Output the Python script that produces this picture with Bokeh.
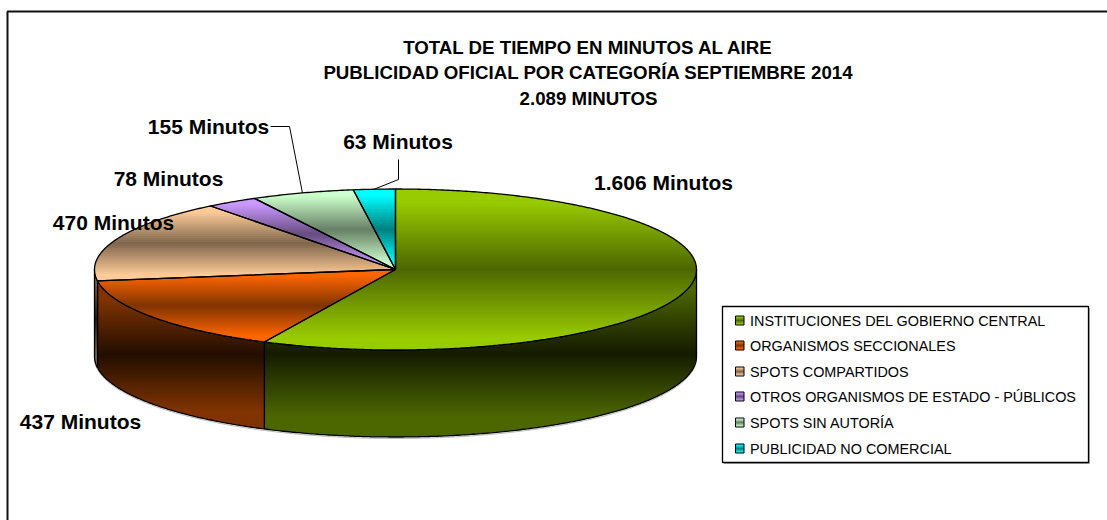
from bokeh.plotting import figure
from bokeh.embed import file_html
from bokeh.resources import INLINE
from bokeh.models import Range1d
from bokeh.core.properties import value
import numpy as np

# ---- data ----
categories = ["INSTITUCIONES DEL GOBIERNO CENTRAL", "ORGANISMOS SECCIONALES", "SPOTS COMPARTIDOS",
              "OTROS ORGANISMOS DE ESTADO - PÚBLICOS", "SPOTS SIN AUTORÍA", "PUBLICIDAD NO COMERCIAL"]
minutes = [1606, 437, 470, 78, 155, 63]
value_labels = ["1.606 Minutos", "437 Minutos", "470 Minutos", "78 Minutos", "155 Minutos", "63 Minutos"]
title_lines = ["TOTAL DE TIEMPO EN MINUTOS AL AIRE",
               "PUBLICIDAD OFICIAL POR CATEGORÍA SEPTIEMBRE 2014",
               "2.089 MINUTOS"]
colors = [(0x99, 0xCC, 0x00), (0xFF, 0x66, 0x00), (0xFF, 0xCC, 0x99),
          (0xCC, 0x99, 0xFF), (0xCC, 0xFF, 0xCC), (0x00, 0xFF, 0xFF)]

# ---- layout ----
W, H = 1107, 520
CX, CY, RX, RY, DEPTH = 395.0, 269.0, 301.0, 80.5, 87.0
FONT = "Liberation Sans"

p = figure(width=W, height=H, output_backend="svg", toolbar_location=None,
           x_range=Range1d(0, W), y_range=Range1d(H, 0), min_border=0)
p.axis.visible = False
p.grid.visible = False
p.outline_line_color = None
p.background_fill_color = "white"
p.border_fill_color = "white"


def rim(angle_deg, extra=0.0):
    a = np.radians(angle_deg)
    return CX + RX * np.sin(a), CY - RY * np.cos(a) + extra


def clip(poly, y0, y1):
    def half(pts, keep, cross):
        out = []
        n = len(pts)
        for i in range(n):
            a, b = pts[i], pts[(i + 1) % n]
            ka, kb = keep(a[1]), keep(b[1])
            if ka:
                out.append(a)
            if ka != kb:
                t = (cross - a[1]) / (b[1] - a[1])
                out.append((a[0] + t * (b[0] - a[0]), cross))
        return out
    pts = half(poly, lambda y: y >= y0, y0)
    if pts:
        pts = half(pts, lambda y: y <= y1, y1)
    return pts


def shade(c, f):
    return "#%02x%02x%02x" % tuple(int(round(min(255, v * f))) for v in c)


def gradient(poly, c, factor, step=2.0):
    """Fill a polygon with a vertical gradient made of overlapping horizontal bands."""
    ys = [q[1] for q in poly]
    y0, y1 = min(ys), max(ys)
    xs_all, ys_all, cols = [], [], []
    y = y0
    while y < y1:
        band = clip(poly, y, min(y + step + 1.0, y1))
        if len(band) >= 3:
            xs_all.append([q[0] for q in band])
            ys_all.append([q[1] for q in band])
            t = (y + step / 2 - y0) / (y1 - y0)
            cols.append(shade(c, factor(min(t, 1.0))))
        y += step
    p.patches(xs_all, ys_all, fill_color=cols, line_color=None)


def top_factor(t):
    d = abs(2 * t - 1)
    return 0.5 + 0.5 * min(1.0, d / 0.85)


def wall_factor(t):
    d = abs(2 * t - 1)
    return 0.13 + 0.37 * min(1.0, d / 0.75)


def arc(a0, a1, extra=0.0):
    n = max(2, int(abs(a1 - a0) * 2))
    return [rim(a, extra) for a in np.linspace(a0, a1, n)]


total = sum(minutes)
edges = np.concatenate([[0.0], np.cumsum(minutes) * 360.0 / total])

# side wall (front half only)
for i in range(len(minutes)):
    a0, a1 = max(edges[i], 90.0), min(edges[i + 1], 270.0)
    if a1 <= a0:
        continue
    poly = arc(a0, a1) + arc(a1, a0, DEPTH)
    gradient(poly, colors[i], wall_factor)
    # light edge under the wall, then the outline
    low = arc(a0, a1, DEPTH + 1.5)
    p.line([q[0] for q in low], [q[1] for q in low], line_color="#b8b8b8", line_width=1)
    p.patch([q[0] for q in poly], [q[1] for q in poly], fill_color=None,
            line_color="black", line_width=1.3)

# top surface
for i in range(len(minutes)):
    poly = [(CX, CY)] + arc(edges[i], edges[i + 1])
    gradient(poly, colors[i], top_factor)
for i in range(len(minutes)):
    poly = [(CX, CY)] + arc(edges[i], edges[i + 1])
    p.patch([q[0] for q in poly], [q[1] for q in poly], fill_color=None,
            line_color="black", line_width=1.3)

# outer frame: only the top and left edges fall inside the picture
p.line([7, 7, W], [H, 11, 11], line_color="#111111", line_width=2)

# title
title_y = [47, 72, 98]
p.text([588] * 3, title_y, text=title_lines, text_font=value(FONT), text_font_style="bold",
       text_font_size="18.7px", text_align="center", text_baseline="middle", text_color="black")

# data labels
label_x = [663, 80, 113, 168, 208, 397.5]
label_y = [182, 421, 222, 178, 126, 141]
p.text(label_x, label_y, text=value_labels, text_font=value(FONT), text_font_style="bold",
       text_font_size="21px", text_align="center", text_baseline="middle", text_color="black")

# leader lines reach the rim at the middle of their slices
mid155 = rim((edges[4] + edges[5]) / 2)
mid63 = rim((edges[5] + edges[6]) / 2)
p.line([270, 289, mid155[0]], [126, 126, mid155[1]], line_color="black", line_width=1)
p.line([398, 398, mid63[0]], [159, 179, mid63[1]], line_color="black", line_width=1)

# legend
LX0, LX1, LY0, LY1 = 722, 1088, 306, 462
p.patch([LX0 + 1.5, LX1 + 1.5, LX1 + 1.5, LX0 + 1.5], [LY0 + 1.5, LY0 + 1.5, LY1 + 1.5, LY1 + 1.5],
        fill_color="#b0b0b0", line_color=None)
p.patch([LX0, LX1, LX1, LX0], [LY0, LY0, LY1, LY1], fill_color="white", line_color="black", line_width=1.3)
leg_y = [320, 345, 371, 396, 422, 448]
for c, y, name in zip(colors, leg_y, categories):
    sw = [(735, y - 4.5), (743.5, y - 4.5), (743.5, y + 4.5), (735, y + 4.5)]
    gradient(sw, c, top_factor, step=1.0)
    p.patch([q[0] for q in sw], [q[1] for q in sw], fill_color=None, line_color="black", line_width=1)
p.text([749.5] * 6, leg_y, text=categories, text_font=value(FONT), text_font_size="14.4px",
       text_align="left", text_baseline="middle", text_color="black")

open("out.html", "w").write(file_html(p, INLINE))
